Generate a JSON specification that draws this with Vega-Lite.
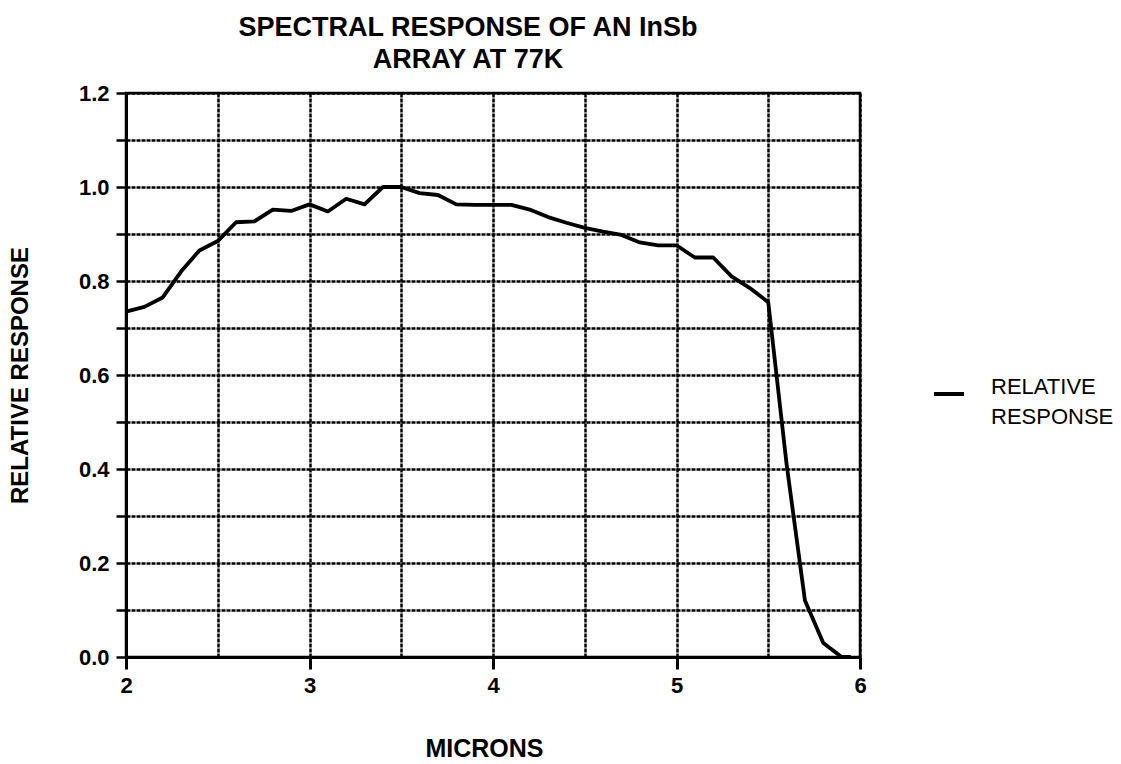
{
  "$schema": "https://vega.github.io/schema/vega-lite/v6.json",
  "width": 734,
  "height": 564,
  "autosize": "none",
  "padding": {"left": 126, "top": 93, "right": 261, "bottom": 107},
  "background": "white",
  "title": {
    "text": ["SPECTRAL RESPONSE OF AN InSb", "ARRAY AT 77K"],
    "font": "Liberation Sans",
    "fontSize": 27,
    "fontWeight": "bold",
    "color": "black",
    "anchor": "middle",
    "dx": -25,
    "lineHeight": 32,
    "offset": 8
  },
  "config": {
    "view": {"stroke": "black", "strokeWidth": 2.5},
    "font": "Liberation Sans",
    "style": {"guide-label": {"lineHeight": 30}}
  },
  "data": {
    "values": [
      {"microns": 2.0, "response": 0.735, "series": "RELATIVE RESPONSE"},
      {"microns": 2.1, "response": 0.745, "series": "RELATIVE RESPONSE"},
      {"microns": 2.2, "response": 0.765, "series": "RELATIVE RESPONSE"},
      {"microns": 2.3, "response": 0.82, "series": "RELATIVE RESPONSE"},
      {"microns": 2.4, "response": 0.865, "series": "RELATIVE RESPONSE"},
      {"microns": 2.5, "response": 0.885, "series": "RELATIVE RESPONSE"},
      {"microns": 2.6, "response": 0.925, "series": "RELATIVE RESPONSE"},
      {"microns": 2.7, "response": 0.927, "series": "RELATIVE RESPONSE"},
      {"microns": 2.8, "response": 0.952, "series": "RELATIVE RESPONSE"},
      {"microns": 2.9, "response": 0.949, "series": "RELATIVE RESPONSE"},
      {"microns": 3.0, "response": 0.963, "series": "RELATIVE RESPONSE"},
      {"microns": 3.1, "response": 0.948, "series": "RELATIVE RESPONSE"},
      {"microns": 3.2, "response": 0.975, "series": "RELATIVE RESPONSE"},
      {"microns": 3.3, "response": 0.963, "series": "RELATIVE RESPONSE"},
      {"microns": 3.4, "response": 1.0, "series": "RELATIVE RESPONSE"},
      {"microns": 3.5, "response": 1.0, "series": "RELATIVE RESPONSE"},
      {"microns": 3.6, "response": 0.987, "series": "RELATIVE RESPONSE"},
      {"microns": 3.7, "response": 0.983, "series": "RELATIVE RESPONSE"},
      {"microns": 3.8, "response": 0.963, "series": "RELATIVE RESPONSE"},
      {"microns": 3.9, "response": 0.962, "series": "RELATIVE RESPONSE"},
      {"microns": 4.0, "response": 0.962, "series": "RELATIVE RESPONSE"},
      {"microns": 4.1, "response": 0.962, "series": "RELATIVE RESPONSE"},
      {"microns": 4.2, "response": 0.952, "series": "RELATIVE RESPONSE"},
      {"microns": 4.3, "response": 0.936, "series": "RELATIVE RESPONSE"},
      {"microns": 4.4, "response": 0.924, "series": "RELATIVE RESPONSE"},
      {"microns": 4.5, "response": 0.913, "series": "RELATIVE RESPONSE"},
      {"microns": 4.6, "response": 0.905, "series": "RELATIVE RESPONSE"},
      {"microns": 4.7, "response": 0.898, "series": "RELATIVE RESPONSE"},
      {"microns": 4.8, "response": 0.882, "series": "RELATIVE RESPONSE"},
      {"microns": 4.9, "response": 0.876, "series": "RELATIVE RESPONSE"},
      {"microns": 5.0, "response": 0.876, "series": "RELATIVE RESPONSE"},
      {"microns": 5.1, "response": 0.85, "series": "RELATIVE RESPONSE"},
      {"microns": 5.2, "response": 0.85, "series": "RELATIVE RESPONSE"},
      {"microns": 5.3, "response": 0.81, "series": "RELATIVE RESPONSE"},
      {"microns": 5.4, "response": 0.785, "series": "RELATIVE RESPONSE"},
      {"microns": 5.5, "response": 0.755, "series": "RELATIVE RESPONSE"},
      {"microns": 5.6, "response": 0.41, "series": "RELATIVE RESPONSE"},
      {"microns": 5.7, "response": 0.12, "series": "RELATIVE RESPONSE"},
      {"microns": 5.8, "response": 0.03, "series": "RELATIVE RESPONSE"},
      {"microns": 5.9, "response": 0.0, "series": "RELATIVE RESPONSE"},
      {"microns": 5.95, "response": 0.0, "series": "RELATIVE RESPONSE"}
    ]
  },
  "mark": {"type": "line", "strokeWidth": 3.8, "strokeJoin": "round"},
  "encoding": {
    "x": {
      "field": "microns",
      "type": "quantitative",
      "title": "MICRONS",
      "scale": {"domain": [2, 6], "nice": false, "zero": false},
      "axis": {
        "values": [2, 2.5, 3, 3.5, 4, 4.5, 5, 5.5, 6],
        "labelExpr": "datum.value % 1 === 0 ? format(datum.value, 'd') : ''",
        "grid": true,
        "gridColor": "black",
        "gridWidth": 2.5,
        "gridDash": [4, 1],
        "gridOpacity": 1,
        "domainColor": "black",
        "domainWidth": 3,
        "tickColor": "black",
        "tickWidth": 3,
        "tickSize": 12,
        "tickOpacity": {"condition": {"test": "datum.value % 1 !== 0", "value": 0}, "value": 1},
        "labelFont": "Liberation Sans",
        "labelFontSize": 22,
        "labelFontWeight": "bold",
        "labelColor": "black",
        "labelPadding": 6,
        "labelFlush": false,
        "titleFont": "Liberation Sans",
        "titleFontSize": 25,
        "titleFontWeight": "bold",
        "titleColor": "black",
        "titlePadding": 40,
        "titleX": 358
      }
    },
    "y": {
      "field": "response",
      "type": "quantitative",
      "title": "RELATIVE RESPONSE",
      "scale": {"domain": [0, 1.2], "nice": false},
      "axis": {
        "values": [0, 0.1, 0.2, 0.3, 0.4, 0.5, 0.6, 0.7, 0.8, 0.9, 1.0, 1.1, 1.2],
        "labelExpr": "round(datum.value * 10) % 2 === 0 ? format(datum.value, '.1f') : ''",
        "grid": true,
        "gridColor": "black",
        "gridWidth": 2.5,
        "gridDash": [4, 1],
        "gridOpacity": 1,
        "domainColor": "black",
        "domainWidth": 3,
        "tickColor": "black",
        "tickWidth": 2.5,
        "tickSize": 10,
        "labelFont": "Liberation Sans",
        "labelFontSize": 22,
        "labelFontWeight": "bold",
        "labelColor": "black",
        "labelPadding": 7,
        "labelFlush": false,
        "titleFont": "Liberation Sans",
        "titleFontSize": 24,
        "titleFontWeight": "bold",
        "titleColor": "black",
        "titlePadding": 46
      }
    },
    "color": {
      "field": "series",
      "type": "nominal",
      "scale": {"range": ["black"]},
      "legend": {
        "title": null,
        "orient": "none",
        "legendX": 806,
        "legendY": 284,
        "padding": 0,
        "symbolType": "stroke",
        "symbolSize": 900,
        "symbolStrokeWidth": 4,
        "symbolStrokeColor": "black",
        "labelExpr": "['RELATIVE', 'RESPONSE']",
        "labelFont": "Liberation Sans",
        "labelFontSize": 22,
        "labelColor": "black",
        "labelOffset": 25,
        "labelLimit": 300,
        "labelBaseline": "alphabetic"
      }
    }
  }
}
